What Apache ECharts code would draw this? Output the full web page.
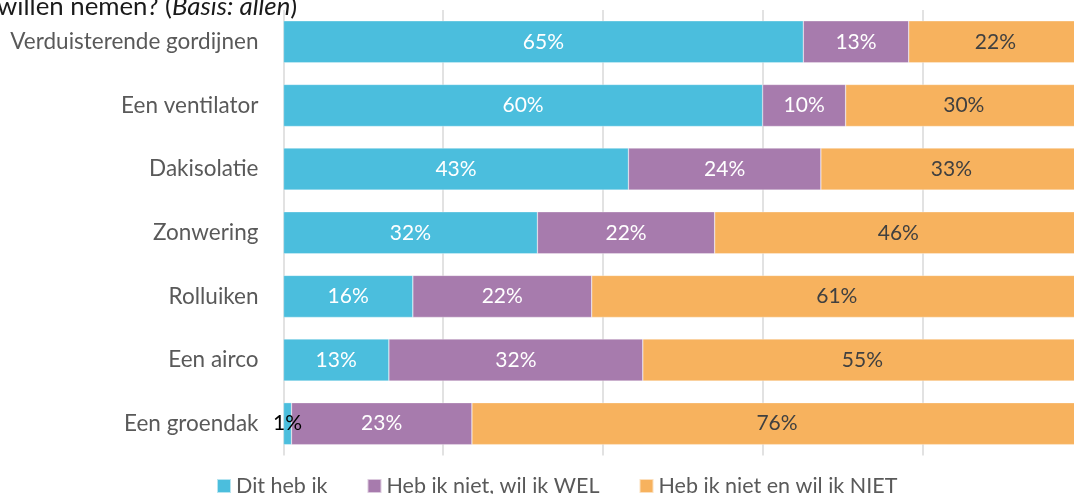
<!DOCTYPE html>
<html>
<head>
<meta charset="utf-8">
<script src="https://cdn.jsdelivr.net/npm/echarts@6/dist/echarts.min.js"></script>
<style>
html,body{margin:0;padding:0;background:#fff;overflow:hidden;width:1074px;height:494px;}
#chart{width:1090px;height:494px;}
</style>
</head>
<body>
<div id="chart"></div>
<script>
const categories = ['Verduisterende gordijnen', 'Een ventilator', 'Dakisolatie', 'Zonwering', 'Rolluiken', 'Een airco', 'Een groendak'];
const seriesNames = ['Dit heb ik', 'Heb ik niet, wil ik WEL', 'Heb ik niet en wil ik NIET'];
const ditHebIk = [65.1, 60.0, 43.2, 31.8, 16.2, 13.2, 1.0];
const wilIkWel = [13.2, 10.4, 24.1, 22.2, 22.4, 31.8, 22.6];
const wilIkNiet = [21.7, 29.6, 32.7, 46.0, 61.4, 55.0, 76.4];
const xTicks = [0, 20, 40, 60, 80, 100];

const FONT = 'Lato';
const colors = ['#4BBEDD', '#A77BAD', '#F7B25E'];
const labelColors = ['#FFFFFF', '#FFFFFF', '#404040'];

function makeSeries(idx, values) {
  return {
    name: seriesNames[idx],
    type: 'bar',
    stack: 'total',
    barWidth: 42,
    itemStyle: { color: colors[idx], borderColor: 'rgba(255,255,255,0.6)', borderWidth: 0.5 },
    label: {
      show: true,
      position: 'inside',
      fontFamily: FONT,
      fontSize: 21,
      color: labelColors[idx],
      formatter: p => Math.round(p.value) + '%'
    },
    data: values.map((v, i) => {
      if (idx === 0 && v < 3) {
        return { value: v, label: { color: '#000000' } };
      }
      return v;
    })
  };
}

const chart = echarts.init(document.getElementById('chart'), null, { renderer: 'canvas' });
chart.setOption({
  animation: false,
  backgroundColor: '#ffffff',
  textStyle: { fontFamily: FONT },
  grid: { left: 283.5, top: 10, right: 8, bottom: 38.5, containLabel: false },
  legend: {
    data: seriesNames,
    left: 216,
    top: 475,
    padding: 0,
    itemWidth: 14,
    itemHeight: 14,
    itemGap: 39,
    icon: 'rect',
    textStyle: { fontFamily: FONT, fontSize: 21.5, color: '#595959' }
  },
  xAxis: {
    type: 'value',
    min: xTicks[0],
    max: xTicks[xTicks.length - 1],
    interval: xTicks[1] - xTicks[0],
    axisLabel: { show: false },
    axisLine: { show: false },
    axisTick: { show: false },
    splitLine: { show: true, lineStyle: { color: '#D9D9D9', width: 1.5 } }
  },
  yAxis: {
    type: 'category',
    data: categories,
    inverse: true,
    axisLine: { show: false },
    axisTick: { show: false },
    axisLabel: { margin: 25, fontFamily: FONT, fontSize: 22.5, color: '#595959' }
  },
  graphic: [{
    type: 'text',
    left: -3,
    top: -6,
    style: {
      text: '{a|willen nemen? (}{b|Basis: allen}{a|)}',
      rich: {
        a: { fontFamily: FONT, fontSize: 25.8, fill: '#1a1a1a' },
        b: { fontFamily: FONT, fontSize: 25.8, fontStyle: 'italic', fill: '#1a1a1a' }
      }
    }
  }],
  series: [
    makeSeries(0, ditHebIk),
    makeSeries(1, wilIkWel),
    makeSeries(2, wilIkNiet)
  ]
});
</script>
</body>
</html>
